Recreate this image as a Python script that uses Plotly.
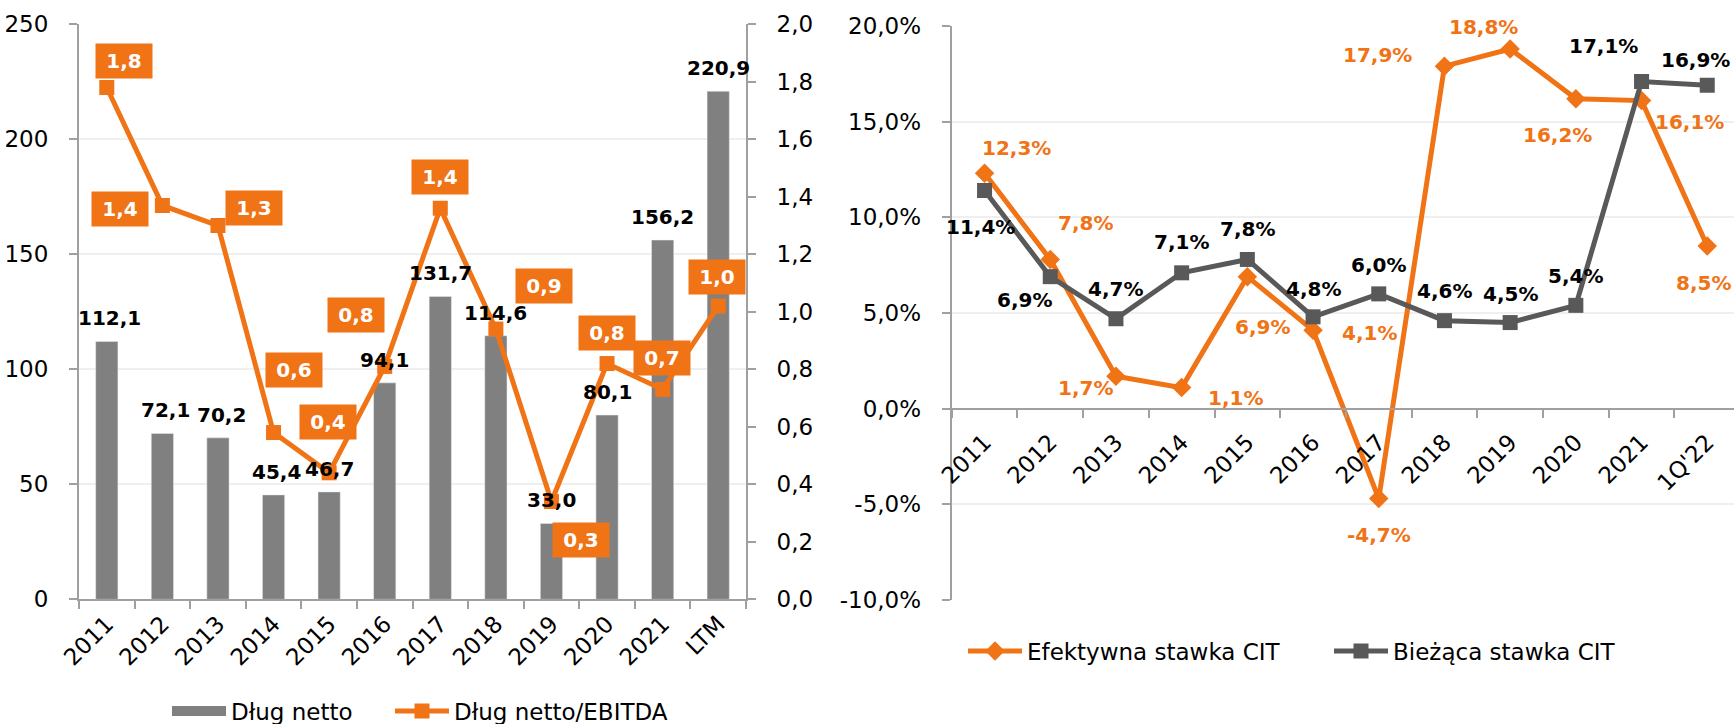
import plotly.graph_objects as go

# ---------------- data ----------------
left_categories = ["2011", "2012", "2013", "2014", "2015", "2016", "2017", "2018", "2019", "2020", "2021", "LTM"]
net_debt = [112.1, 72.1, 70.2, 45.4, 46.7, 94.1, 131.7, 114.6, 33.0, 80.1, 156.2, 220.9]
net_debt_ebitda = [1.78, 1.37, 1.30, 0.58, 0.44, 0.81, 1.36, 0.94, 0.34, 0.82, 0.73, 1.02]

right_categories = ["2011", "2012", "2013", "2014", "2015", "2016", "2017", "2018", "2019", "2020", "2021", "1Q'22"]
cit_effective = [12.3, 7.8, 1.7, 1.1, 6.9, 4.1, -4.7, 17.9, 18.8, 16.2, 16.1, 8.5]
cit_current = [11.4, 6.9, 4.7, 7.1, 7.8, 4.8, 6.0, 4.6, 4.5, 5.4, 17.1, 16.9]

left_ticks = [0, 50, 100, 150, 200, 250]
right2_ticks = [0.0, 0.2, 0.4, 0.6, 0.8, 1.0, 1.2, 1.4, 1.6, 1.8, 2.0]
pct_ticks = [-10, -5, 0, 5, 10, 15, 20]

# ---------------- label offsets (px) ----------------
box_dx = [17, -42, 36, 20, -1, -29, 0, 48, 30, 0, -1, -1]
box_dy = [-27, 4, -18, -63, -51, -51, -31, -43, 38, -31, -31, -29]
bar_dx = [3, 3, 4, 3, 0, 0, 0, 0, 0, 0, 0, 0]
bar_dy = -23
eff_dx = [32, 35, -30, 54, 15, 56, 0, -67, -27, -18, 48, -4]
eff_dy = [-25, -36, 12, 10, 50, 3, 36, -11, -22, 36, 21, 37]
cur_dx = [-4, -26, 0, 0, 0, 0, 0, 0, 0, 0, -38, -12]
cur_dy = [36, 23, -30, -31, -30, -28, -29, -30, -29, -29, -35, -25]

# ---------------- styles ----------------
ORANGE = "#F07316"
GRAY_BAR = "#808080"
GRAY_LINE = "#595959"
AXIS = "#A0A0A0"
GRID = "#EFEFEF"
FONT = "DejaVu Sans"
W, H = 1734, 724
TICK_SIZE = 23
LABEL_SIZE = 20


def fmt(v, nd=1, pct=False):
    s = f"{v:.{nd}f}".replace(".", ",")
    return s + ("%" if pct else "")


def px_x(p):
    return p / W


def px_y(p):
    return 1 - p / H


fig = go.Figure()

# Left chart
fig.add_trace(go.Bar(
    x=list(range(len(left_categories))), y=net_debt, name="Dług netto",
    marker_color=GRAY_BAR, xaxis="x", yaxis="y", showlegend=False,
))
# legend entry for the bars (wide grey swatch like the original)
fig.add_trace(go.Scatter(
    x=[None], y=[None], name="Dług netto", mode="lines",
    line=dict(color=GRAY_BAR, width=14), xaxis="x", yaxis="y", legend="legend",
))
fig.add_trace(go.Scatter(
    x=list(range(len(left_categories))), y=net_debt_ebitda, name="Dług netto/EBITDA",
    mode="lines+markers", line=dict(color=ORANGE, width=5),
    marker=dict(symbol="square", size=15, color=ORANGE),
    xaxis="x", yaxis="y2", legend="legend3",
))

# Right chart
fig.add_trace(go.Scatter(
    x=list(range(len(right_categories))), y=cit_effective, name="Efektywna stawka CIT",
    mode="lines+markers", line=dict(color=ORANGE, width=5),
    marker=dict(symbol="diamond", size=15, color=ORANGE),
    xaxis="x2", yaxis="y3", legend="legend2",
))
fig.add_trace(go.Scatter(
    x=list(range(len(right_categories))), y=cit_current, name="Bieżąca stawka CIT",
    mode="lines+markers", line=dict(color=GRAY_LINE, width=5),
    marker=dict(symbol="square", size=15, color=GRAY_LINE),
    xaxis="x2", yaxis="y3", legend="legend2",
))

annotations = []
for i, v in enumerate(net_debt):
    annotations.append(dict(
        x=i, y=v, xref="x", yref="y", text=fmt(v), showarrow=False,
        xshift=bar_dx[i], yshift=-bar_dy,
        font=dict(family=FONT, size=LABEL_SIZE, color="black", weight="bold"),
    ))
for i, v in enumerate(net_debt_ebitda):
    annotations.append(dict(
        x=i, y=v, xref="x", yref="y2", text=fmt(v), showarrow=False,
        xshift=box_dx[i], yshift=-box_dy[i],
        bgcolor=ORANGE, width=54, height=32, borderpad=1,
        font=dict(family=FONT, size=LABEL_SIZE, color="white", weight="bold"),
    ))
for i, v in enumerate(cit_effective):
    annotations.append(dict(
        x=i, y=v, xref="x2", yref="y3", text=fmt(v, pct=True), showarrow=False,
        xshift=eff_dx[i], yshift=-eff_dy[i],
        font=dict(family=FONT, size=LABEL_SIZE, color=ORANGE, weight="bold"),
    ))
for i, v in enumerate(cit_current):
    annotations.append(dict(
        x=i, y=v, xref="x2", yref="y3", text=fmt(v, pct=True), showarrow=False,
        xshift=cur_dx[i], yshift=-cur_dy[i],
        font=dict(family=FONT, size=LABEL_SIZE, color="black", weight="bold"),
    ))

tickfont = dict(family=FONT, size=TICK_SIZE, color="black")
legfont = dict(family=FONT, size=TICK_SIZE, color="black")

left_dom_x = [px_x(79), px_x(746)]
left_dom_y = [px_y(599.3), px_y(24.3)]
right_dom_x = [px_x(951.7), 1.0]
right_dom_y = [px_y(600), px_y(26)]
pct_range = [-10, 20]
zero_pos = right_dom_y[0] + (right_dom_y[1] - right_dom_y[0]) * (0 - pct_range[0]) / (pct_range[1] - pct_range[0])
cat_px = 65.7
right_span = (W - 951.7) / cat_px

fig.update_layout(
    width=W, height=H,
    margin=dict(l=0, r=0, t=0, b=0, autoexpand=False),
    paper_bgcolor="white", plot_bgcolor="white",
    font=dict(family=FONT, size=TICK_SIZE, color="black"),
    bargap=0.6,
    showlegend=True,
    xaxis=dict(
        domain=left_dom_x, anchor="y", type="linear", automargin=False,
        range=[-0.5, len(left_categories) - 0.5],
        tickmode="array", tickvals=list(range(len(left_categories))), ticktext=left_categories,
        tickangle=-45, tickfont=tickfont, showgrid=False, zeroline=False,
        showline=True, linecolor=AXIS, linewidth=2, ticks="", ticklabelstandoff=0,
    ),
    yaxis=dict(
        domain=left_dom_y, anchor="x", range=[0, 250], automargin=False,
        tickmode="array", tickvals=left_ticks, ticktext=[str(t) for t in left_ticks],
        tickfont=tickfont, showgrid=True, gridcolor=GRID, gridwidth=2, zeroline=False,
        showline=True, linecolor=AXIS, linewidth=2, ticks="outside", ticklen=8,
        tickcolor=AXIS, tickwidth=2, ticklabelstandoff=16,
    ),
    yaxis2=dict(
        overlaying="y", side="right", anchor="x", range=[0, 2], automargin=False,
        tickmode="array", tickvals=right2_ticks, ticktext=[fmt(t) for t in right2_ticks],
        tickfont=tickfont, showgrid=False, zeroline=False,
        showline=True, linecolor=AXIS, linewidth=2, ticks="outside", ticklen=8,
        tickcolor=AXIS, tickwidth=2, ticklabelstandoff=16,
    ),
    xaxis2=dict(
        domain=right_dom_x, anchor="free", position=zero_pos, type="linear", automargin=False,
        range=[-0.5, -0.5 + right_span],
        tickmode="array", tickvals=list(range(len(right_categories))), ticktext=right_categories,
        tickangle=-45, tickfont=tickfont, showgrid=False, zeroline=False,
        showline=True, linecolor=AXIS, linewidth=2, ticks="", ticklabelstandoff=10,
    ),
    yaxis3=dict(
        domain=right_dom_y, anchor="x2", range=pct_range, automargin=False,
        tickmode="array", tickvals=pct_ticks, ticktext=[fmt(t, pct=True) for t in pct_ticks],
        tickfont=tickfont, showgrid=True, gridcolor=GRID, gridwidth=2, zeroline=False,
        showline=True, linecolor=AXIS, linewidth=2, ticks="outside", ticklen=8,
        tickcolor=AXIS, tickwidth=2, ticklabelstandoff=16,
    ),
    legend=dict(
        orientation="h", x=px_x(167), xanchor="left", y=px_y(711), yanchor="middle",
        font=legfont, bgcolor="rgba(0,0,0,0)", itemwidth=54,
    ),
    legend3=dict(
        orientation="h", x=px_x(390), xanchor="left", y=px_y(711), yanchor="middle",
        font=legfont, bgcolor="rgba(0,0,0,0)", itemwidth=54,
    ),
    legend2=dict(
        orientation="h", x=px_x(963), xanchor="left", y=px_y(651), yanchor="middle",
        font=legfont, bgcolor="rgba(0,0,0,0)", itemwidth=54, traceorder="normal",
        entrywidth=297,
    ),
    annotations=annotations,
)

# category boundary ticks drawn as minor ticks between categories
fig.update_xaxes(minor=dict(ticks="outside", ticklen=8, tickcolor=AXIS, tickwidth=2,
                            tickmode="array"))
fig.layout.xaxis.minor.tickvals = [i - 0.5 for i in range(len(left_categories) + 1)]
fig.layout.xaxis2.minor.tickvals = [i - 0.5 for i in range(len(right_categories) + 1)]

fig.write_html(
    "out.html",
    config={"displayModeBar": False},
    post_script="document.body.style.margin='0';document.body.style.overflow='hidden';",
)
